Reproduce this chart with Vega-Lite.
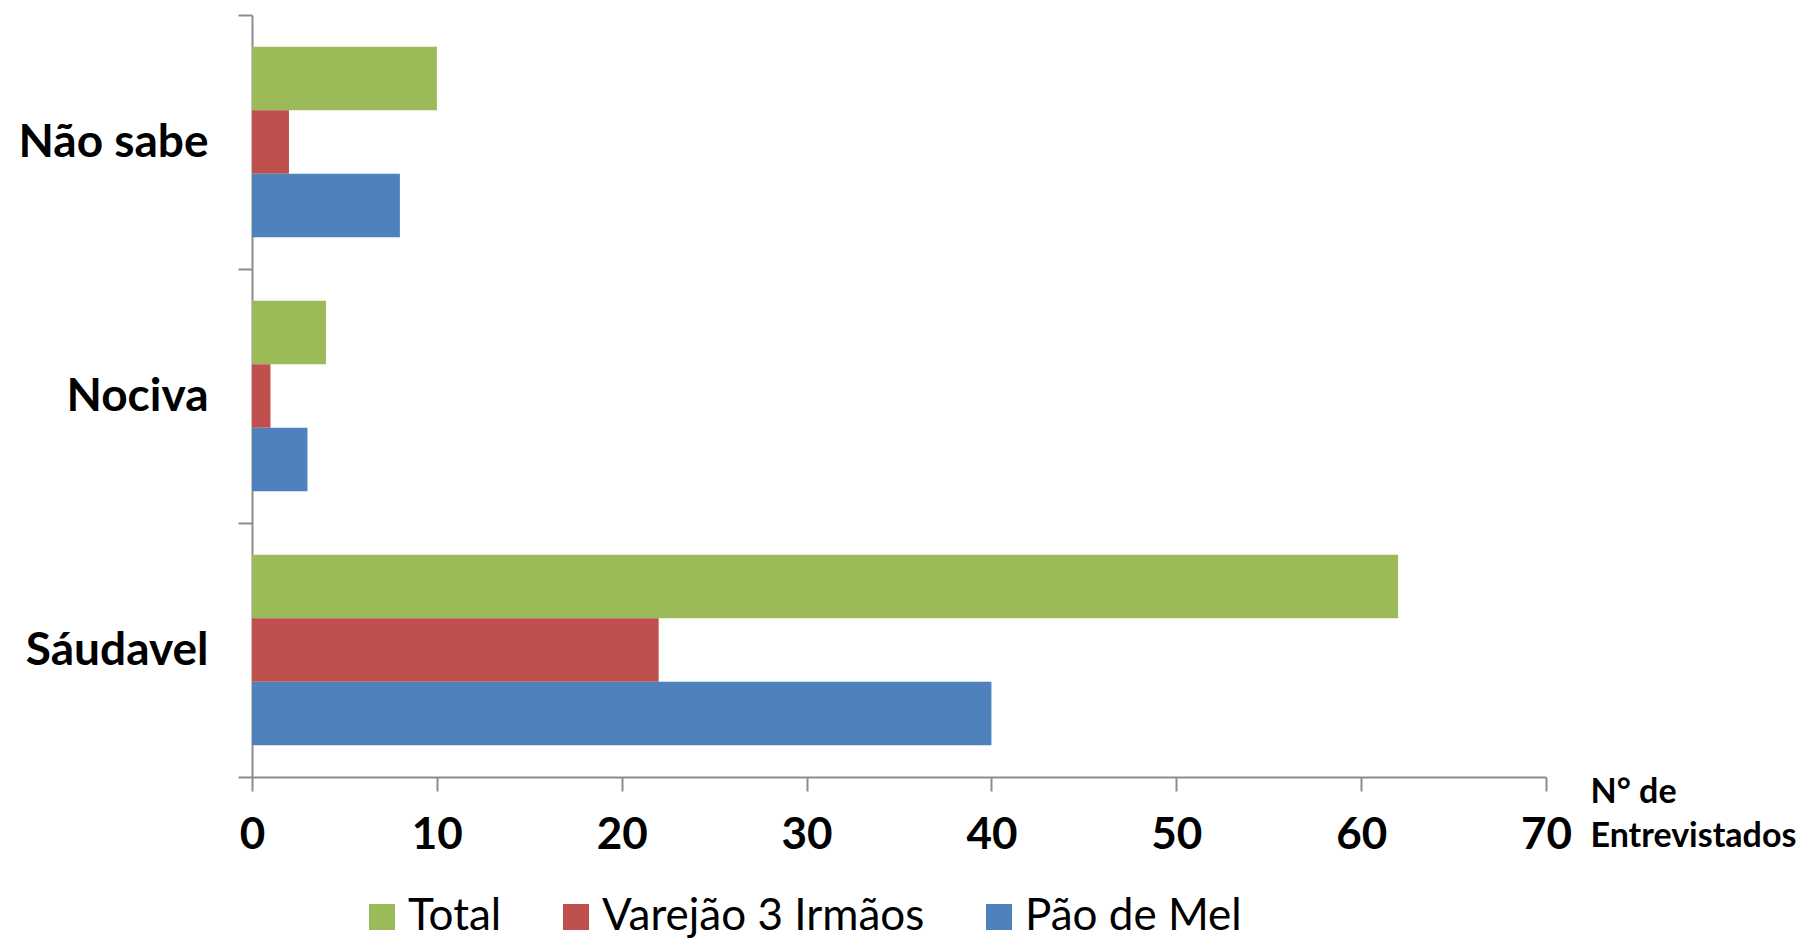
{
  "$schema": "https://vega.github.io/schema/vega-lite/v6.json",
  "width": 1294,
  "height": 762,
  "autosize": {"type": "none"},
  "padding": {"left": 252, "top": 15, "right": 260, "bottom": 161},
  "background": "white",
  "config": {"view": {"stroke": null}, "font": "Lato"},
  "data": {
    "values": [
      {"resposta": "Não sabe", "serie": "Total", "valor": 10},
      {"resposta": "Não sabe", "serie": "Varejão 3 Irmãos", "valor": 2},
      {"resposta": "Não sabe", "serie": "Pão de Mel", "valor": 8},
      {"resposta": "Nociva", "serie": "Total", "valor": 4},
      {"resposta": "Nociva", "serie": "Varejão 3 Irmãos", "valor": 1},
      {"resposta": "Nociva", "serie": "Pão de Mel", "valor": 3},
      {"resposta": "Sáudavel", "serie": "Total", "valor": 62},
      {"resposta": "Sáudavel", "serie": "Varejão 3 Irmãos", "valor": 22},
      {"resposta": "Sáudavel", "serie": "Pão de Mel", "valor": 40}
    ]
  },
  "mark": {"type": "bar"},
  "encoding": {
    "y": {
      "field": "resposta",
      "type": "nominal",
      "sort": ["Não sabe", "Nociva", "Sáudavel"],
      "scale": {"paddingInner": 0, "paddingOuter": 0},
      "axis": {
        "title": null,
        "tickBand": "extent",
        "tickSize": 14,
        "tickWidth": 2,
        "tickColor": "#8c8c8c",
        "domainColor": "#8c8c8c",
        "domainWidth": 2,
        "labelFont": "Lato",
        "labelFontWeight": "bold",
        "labelFontSize": 46,
        "labelColor": "black",
        "labelPadding": 30,
        "labelLimit": 400
      }
    },
    "yOffset": {
      "field": "serie",
      "type": "nominal",
      "sort": ["Total", "Varejão 3 Irmãos", "Pão de Mel"],
      "scale": {"paddingInner": 0, "paddingOuter": 0.5}
    },
    "x": {
      "field": "valor",
      "type": "quantitative",
      "scale": {"domain": [0, 70], "nice": false},
      "axis": {
        "values": [0, 10, 20, 30, 40, 50, 60, 70],
        "grid": false,
        "tickSize": 14,
        "tickWidth": 2,
        "tickColor": "#8c8c8c",
        "domainColor": "#8c8c8c",
        "domainWidth": 2,
        "labelFont": "Lato",
        "labelFontWeight": "bold",
        "labelFontSize": 44,
        "labelColor": "black",
        "labelPadding": 22,
        "labelFlush": false,
        "title": ["N° de", "Entrevistados"],
        "titleFont": "Lato",
        "titleFontWeight": "bold",
        "titleFontSize": 34,
        "titleColor": "black",
        "titleLineHeight": 44,
        "titleX": 1338,
        "titleY": -2,
        "titleAlign": "left",
        "titleAnchor": "start",
        "titleBaseline": "top"
      }
    },
    "color": {
      "field": "serie",
      "type": "nominal",
      "sort": ["Total", "Varejão 3 Irmãos", "Pão de Mel"],
      "scale": {
        "domain": ["Total", "Varejão 3 Irmãos", "Pão de Mel"],
        "range": ["#9BBB59", "#C0504D", "#4F81BD"]
      },
      "legend": {
        "orient": "none",
        "legendX": 108,
        "legendY": 880,
        "direction": "horizontal",
        "title": null,
        "padding": 0,
        "symbolType": "square",
        "symbolSize": 676,
        "symbolStrokeWidth": 0,
        "symbolOpacity": 1,
        "labelFont": "Lato",
        "labelFontSize": 44,
        "labelColor": "black",
        "labelOffset": 4,
        "columnPadding": 52,
        "labelLimit": 600
      }
    }
  }
}
